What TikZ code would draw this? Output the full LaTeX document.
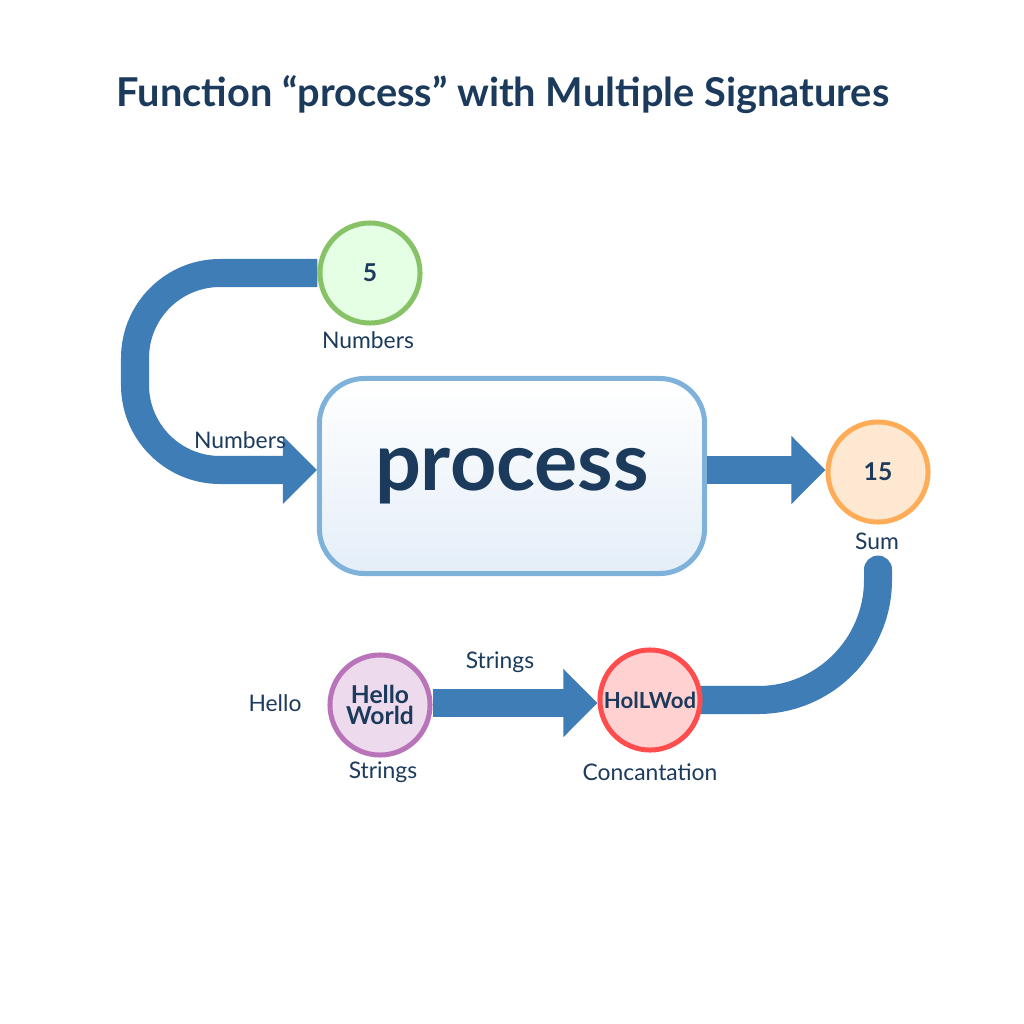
\documentclass[tikz,border=0pt]{standalone}
\usepackage{fontspec}
\setmainfont{Lato}
\usetikzlibrary{arrows.meta,backgrounds}
\definecolor{navy}{HTML}{1B3A5C}
\definecolor{flowblue}{HTML}{3F7DB6}
\definecolor{boxline}{HTML}{7FB2DA}
\definecolor{boxfill}{HTML}{E4EEF8}
\tikzset{
  flow/.style={draw=flowblue,line width=0.28cm,-{Triangle[length=0.34cm,width=0.66cm]}},
  val/.style={circle,minimum size=1.0cm,inner sep=0pt,line width=0.05cm,font=\bfseries\fontsize{7}{8}\selectfont,text=navy,align=center},
  lbl/.style={font=\fontsize{6.5}{7}\selectfont,text=navy}
}
\begin{document}
\begin{tikzpicture}[x=0.01cm,y=-0.01cm]
\useasboundingbox (0,0) rectangle (1024,1024);
\node[font=\bfseries\fontsize{11.3}{13}\selectfont,text=navy] (title) at (503,95) {Function “process” with Multiple Signatures};
% main box
\node[draw=boxline,line width=0.05cm,rounded corners=0.45cm,minimum width=3.85cm,minimum height=1.95cm,
  top color=white,bottom color=boxfill,font=\bfseries\fontsize{23}{26}\selectfont,text=navy] (proc) at (512,476) {process};
% values
\node[val,fill=green!10,draw=green!50!lime!60!black!60] (five) at (370,273) {5};
\node[val,fill=orange!18,draw=orange!65] (fifteen) at (878,472) {15};
\node[val,fill=violet!14,draw=violet!55] (hello) at (380,705) {Hello\\[-2pt]World};
\node[val,fill=red!18,draw=red!70,font=\bfseries\fontsize{6.3}{7}\selectfont] (holl) at (650,700) {HolLWod};
% connectors
\draw[flow,rounded corners=0.85cm] (five.west) -| (135,470) -- (proc.west |- 0,470);
\draw[flow] (proc.east |- 0,470) -- (fifteen.west |- 0,470);
\begin{scope}[on background layer]
\draw[flow,-,line cap=round,rounded corners=1.2cm] (fifteen.south) ++(0,-0.45cm) |- (holl.center);
\end{scope}
\draw[flow] (hello.east |- 0,703) -- (holl.west |- 0,703);
% labels
\node[lbl] (nlab1) at (368,340) {Numbers};
\node[lbl] (nlab2) at (240,440) {Numbers};
\node[lbl] (slab) at (877,541) {Sum};
\node[lbl] (hlab) at (275,703) {Hello};
\node[lbl] (stlab1) at (500,662) {Strings};
\node[lbl] (stlab2) at (383,772) {Strings};
\node[lbl] (clab) at (650,772) {Concantation};
\end{tikzpicture}
\end{document}
